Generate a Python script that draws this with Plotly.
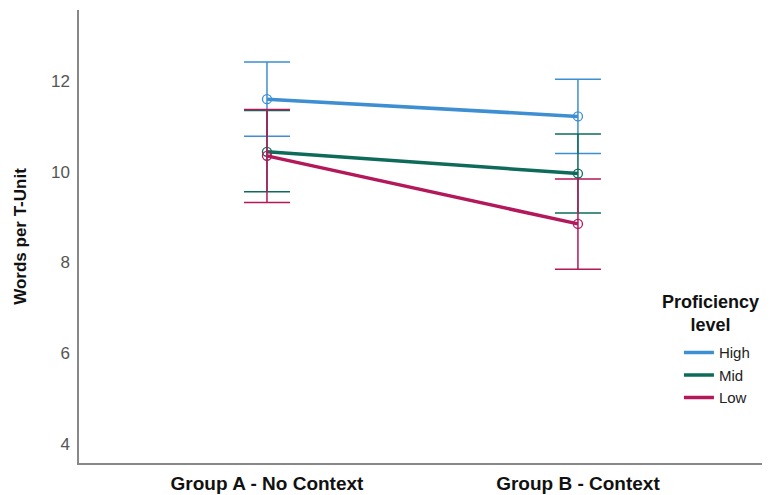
import plotly.graph_objects as go

groups = ["Group A - No Context", "Group B - Context"]
levels = ["High", "Mid", "Low"]
means = {
    "High": [11.60, 11.22],
    "Mid": [10.44, 9.96],
    "Low": [10.35, 8.85],
}
err_plus = {
    "High": [0.82, 0.82],
    "Mid": [0.91, 0.87],
    "Low": [1.02, 0.99],
}
err_minus = {
    "High": [0.82, 0.82],
    "Mid": [0.88, 0.87],
    "Low": [1.03, 1.00],
}
colors = {"High": "#3d8fd1", "Mid": "#0e6b5a", "Low": "#b3185a"}

fig = go.Figure()
xpos = list(range(len(groups)))
for lv in levels:
    fig.add_trace(go.Scatter(
        x=xpos, y=means[lv], name=lv, mode="lines+markers", showlegend=False,
        line=dict(color=colors[lv], width=3.5),
        marker=dict(symbol="circle-open", size=9, color=colors[lv], line=dict(width=1.3)),
        error_y=dict(type="data", array=err_plus[lv], arrayminus=err_minus[lv],
                     color=colors[lv], thickness=1.5, width=23, visible=True),
    ))
for lv in levels:
    fig.add_trace(go.Scatter(
        x=[None], y=[None], name=lv, mode="lines",
        line=dict(color=colors[lv], width=3.5), showlegend=True,
    ))

fig.add_annotation(
    text="<b>Proficiency<br>level</b>", xref="paper", yref="paper",
    x=0.918, y=0.329, xanchor="center", yanchor="middle", showarrow=False,
    font=dict(size=18, color="#111"), align="center",
)

fig.update_layout(
    width=762, height=487,
    margin=dict(l=71, r=3, t=2, b=32),
    paper_bgcolor="white", plot_bgcolor="white",
    font=dict(family="Liberation Sans, Arial, sans-serif", color="#222"),
    showlegend=True,
    legend=dict(
        x=0.872, y=0.28, xanchor="left", yanchor="top",
        font=dict(size=15, color="#222"),
        bgcolor="rgba(255,255,255,0)",
        itemwidth=30, tracegroupgap=0,
    ),
    xaxis=dict(
        range=[-0.6045, 1.608], tickvals=xpos,
        ticktext=["<b>" + g + "</b>" for g in groups],
        tickfont=dict(size=19, color="#111"),
        showgrid=False, zeroline=False, showline=True,
        linecolor="#888", linewidth=1.5, ticks="", ticklabelstandoff=2,
    ),
    yaxis=dict(
        range=[3.58, 13.565], tickvals=[4, 6, 8, 10, 12],
        tickfont=dict(size=17, color="#555"),
        showgrid=False, zeroline=False, showline=True,
        linecolor="#888", linewidth=1.5, ticks="", ticklabelstandoff=4,
        title=dict(text="<b>Words per T-Unit</b>", font=dict(size=17, color="#111"), standoff=20),
    ),
)

fig.write_html("out.html")
